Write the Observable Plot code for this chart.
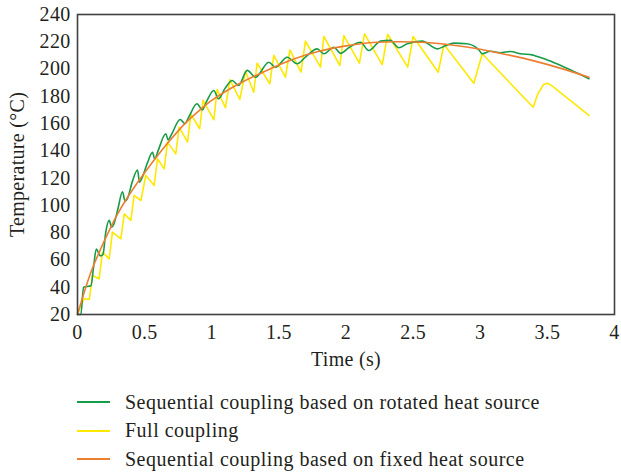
<!DOCTYPE html>
<html>
<head>
<meta charset="utf-8">
<script src="https://cdn.jsdelivr.net/npm/d3@7"></script>
<script src="https://cdn.jsdelivr.net/npm/@observablehq/plot@0.6"></script>
<style>
  body { margin: 0; background: #fff; font-family: "Liberation Serif", serif; color: #231f20; }
  #legend { padding-top: 13px; }
  .row { display: flex; align-items: center; height: 28.5px; font-size: 20px; letter-spacing: 0.5px; }
  .swatch { width: 33px; height: 2px; margin-left: 77px; margin-right: 15px; }
</style>
</head>
<body>
<div id="chart"></div>
<div id="legend"></div>
<script>
const seriesNames = [
  "Sequential coupling based on rotated heat source",
  "Full coupling",
  "Sequential coupling based on fixed heat source"
];
const seriesColors = ["#169c48", "#ffe800", "#ed7d31"];

const timeRotated = [0,0.025,0.045,0.1,0.12,0.14,0.17,0.19,0.21,0.236,0.255,0.27,0.3,0.335,0.355,0.372,0.41,0.447,0.462,0.48,0.52,0.559,0.575,0.6,0.658,0.675,0.7,0.765,0.8,0.83,0.89,0.93,0.96,1.016,1.05,1.1,1.152,1.2,1.264,1.326,1.425,1.475,1.562,1.636,1.7,1.785,1.835,1.91,1.96,2.02,2.058,2.108,2.17,2.257,2.33,2.393,2.456,2.567,2.68,2.74,2.803,2.9,2.99,3.015,3.076,3.15,3.225,3.3,3.387,3.424,3.51,3.6,3.67,3.81];
const tempRotated = [20,20,40,41,55,68,63,64,80,89,84,86,97,110,103,105,118,126,117,120,131,139,134,140,152.5,148,152,163,160,165,174.5,170,176,184.3,178.2,186,191.6,188,199,194,205,201.4,208.7,203.9,209,214.8,211.2,216,211.5,215.6,218,219.7,213.6,220.5,221,215.6,218.5,220.5,214.8,217,219,218.5,214,211.2,213,212,212.9,211.2,210.4,209.2,206.3,202.6,199.5,192.9];

const timeFull = [0,0.03,0.05,0.088,0.112,0.161,0.186,0.236,0.26,0.323,0.348,0.397,0.422,0.472,0.509,0.571,0.596,0.646,0.67,0.732,0.757,0.82,0.844,0.91,0.935,1.016,1.04,1.102,1.135,1.209,1.251,1.313,1.338,1.432,1.462,1.549,1.582,1.665,1.698,1.81,1.835,1.954,1.984,2.1,2.138,2.27,2.31,2.46,2.5,2.687,2.73,2.952,3.015,3.394,3.43,3.47,3.5,3.53,3.81];
const tempFull = [20,28,31.5,31,48.6,46.2,65.7,60.8,80.4,75.5,93.8,89,107.3,103.6,122,114.6,134.2,126.8,146.4,137.8,157.4,146.4,167,156.2,177,162.8,185,171.6,192.3,177.7,198.4,183,204.3,189.2,210,194,214,197.7,220.5,201.4,223.9,202.6,224.5,204.3,225.8,203.3,225.5,201.4,223.9,197.7,218,189.6,211.2,172,182,188.5,189.6,188,166];

const timeFixed = [0,0.1,0.2,0.3,0.4,0.5,0.6,0.7,0.8,0.9,1.0,1.2,1.4,1.6,1.8,2.0,2.2,2.4,2.6,2.8,3.0,3.2,3.4,3.6,3.81];
const tempFixed = [20,51,74,94,110,124,137,149,160,169,177,189,198.5,207,213,217,219.5,220,219.5,217.5,214.5,210.5,206,200.5,194];

const xTicks = [0,0.5,1,1.5,2,2.5,3,3.5,4];
const yTicks = [20,40,60,80,100,120,140,160,180,200,220,240];

const toRows = (ts, vs) => ts.map((t, i) => ({t, v: vs[i]}));
const rowsRotated = toRows(timeRotated, tempRotated);
const rowsFull = toRows(timeFull, tempFull);
const rowsFixed = toRows(timeFixed, tempFixed);

const chart = Plot.plot({
  width: 621,
  height: 375,
  marginLeft: 77,
  marginRight: 7,
  marginTop: 14,
  marginBottom: 61,
  style: {fontFamily: "Liberation Serif, serif", fontSize: "20px", letterSpacing: "0.3px", color: "#231f20", background: "#fff"},
  x: {domain: [0, 4]},
  y: {domain: [20, 240]},
  marks: [
    Plot.axisX({ticks: xTicks, tickSize: 0, tickPadding: 10, tickFormat: d => String(d), label: "Time (s)", labelAnchor: "center", labelOffset: 51, labelArrow: "none"}),
    Plot.axisY({ticks: yTicks, tickSize: 0, tickPadding: 7, tickFormat: d => String(d), label: "Temperature (°C)", labelAnchor: "center", labelOffset: 68, labelArrow: "none"}),
    Plot.line(rowsFull, {x: "t", y: "v", stroke: seriesColors[1], strokeWidth: 1.6, curve: "linear"}),
    Plot.line(rowsRotated, {x: "t", y: "v", stroke: seriesColors[0], strokeWidth: 1.6, curve: "monotone-x"}),
    Plot.line(rowsFixed, {x: "t", y: "v", stroke: seriesColors[2], strokeWidth: 1.6, curve: "catmull-rom"}),
    Plot.frame({stroke: "#404040", strokeWidth: 1.6})
  ]
});
document.getElementById("chart").appendChild(chart);

const legend = document.getElementById("legend");
seriesNames.forEach((name, i) => {
  const row = document.createElement("div");
  row.className = "row";
  const sw = document.createElement("span");
  sw.className = "swatch";
  sw.style.background = seriesColors[i];
  const label = document.createElement("span");
  label.textContent = name;
  row.appendChild(sw);
  row.appendChild(label);
  legend.appendChild(row);
});
</script>
</body>
</html>
